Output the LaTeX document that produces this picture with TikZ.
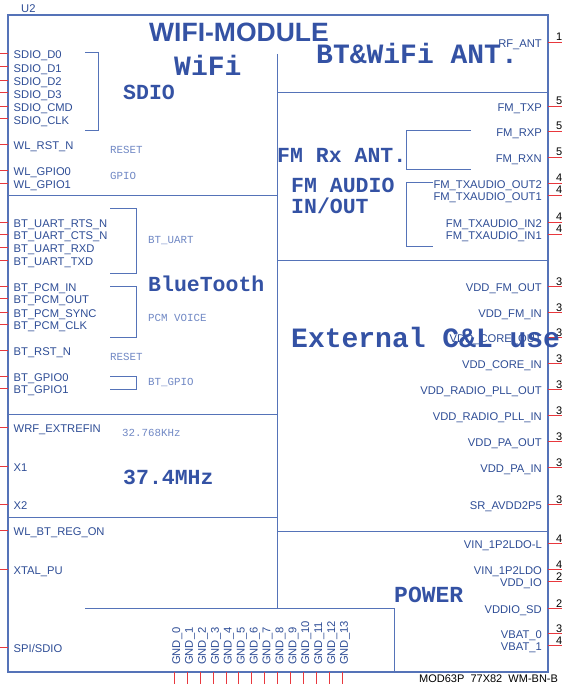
\documentclass[tikz,border=0pt]{standalone}
\usepackage{fontspec}
\setmainfont{Liberation Sans}
\setmonofont{Liberation Mono}
\usepackage{xcolor}
\usetikzlibrary{positioning}

\definecolor{modblue}{HTML}{3452A4}
\definecolor{pinblue}{HTML}{2D4C95}
\definecolor{lineblue}{HTML}{5573B8}
\definecolor{hintblue}{HTML}{7088C4}
\definecolor{pinred}{HTML}{E8383D}

\tikzset{
    frame/.style={lineblue, line width=1pt},
    pinline/.style={pinred, line width=0.9pt},
    pinlbl/.style={pinblue, inner sep=0pt, font=\fontsize{11.2}{13}\selectfont},
    pinnum/.style={black, inner sep=0pt, font=\fontsize{11}{13}\selectfont},
    blocklbl/.style={modblue, inner sep=0pt, anchor=base west, font=\ttfamily\bfseries\fontsize{21.5}{24}\selectfont},
    biglbl/.style={modblue, inner sep=0pt, anchor=base west, font=\ttfamily\bfseries\fontsize{28}{30}\selectfont},
    hintlbl/.style={hintblue, inner sep=0pt, anchor=base west, font=\ttfamily\fontsize{10.8}{12}\selectfont}
}

\begin{document}
\begin{tikzpicture}[x=1pt, y=-1pt]
    \useasboundingbox (0,0) rectangle (562,684);

    % Outline and dividers
    \draw[frame, line width=1.3pt] (8,15) rectangle (548,672);
    \draw[frame] (277,54) -- (277,608);
    \draw[frame] (8,196) -- (277,196);
    \draw[frame] (8,414) -- (277,414);
    \draw[frame] (8,517) -- (277,517);
    \draw[frame] (85,608) -- (394,608) -- (394,672);
    \draw[frame] (277,93) -- (548,93);
    \draw[frame] (277,260) -- (548,260);
    \draw[frame] (277,531) -- (548,531);

    % Group brackets
    \draw[frame] (85,53) -- (98,53) -- (98,131) -- (85,131);
    \draw[frame] (110,209) -- (136,209) -- (136,273) -- (110,273);
    \draw[frame] (110,286) -- (136,286) -- (136,337) -- (110,337);
    \draw[frame] (110,376) -- (136,376) -- (136,389) -- (110,389);
    \draw[frame] (471,131) -- (406,131) -- (406,170) -- (471,170);
    \draw[frame] (433,183) -- (406,183) -- (406,247) -- (433,247);

    % Titles
    \node[pinlbl, anchor=base west] (part) at (21,13) {U2};
    \node[modblue, inner sep=0pt, anchor=base west, font=\bfseries\fontsize{26.5}{28}\selectfont] (title) at (149,41.5) {WIFI-MODULE};
    \node[pinnum, anchor=base west] (partno) at (419,682.5) {MOD63P\ \ 77X82\ \ WM-BN-B};

    % Left pins
    \foreach \y/\name [count=\i] in {
        53/SDIO\_D0, 66.7/SDIO\_D1, 80/SDIO\_D2, 92.7/SDIO\_D3,
        106/SDIO\_CMD, 118.3/SDIO\_CLK, 144/WL\_RST\_N,
        170/WL\_GPIO0, 183/WL\_GPIO1,
        222/BT\_UART\_RTS\_N, 234/BT\_UART\_CTS\_N, 247/BT\_UART\_RXD, 260/BT\_UART\_TXD,
        286/BT\_PCM\_IN, 298/BT\_PCM\_OUT, 312/BT\_PCM\_SYNC, 324/BT\_PCM\_CLK,
        350/BT\_RST\_N, 376/BT\_GPIO0, 388/BT\_GPIO1,
        427/WRF\_EXTREFIN, 466/X1, 504/X2,
        530/WL\_BT\_REG\_ON, 569/XTAL\_PU, 647/{SPI/SDIO}
    } {
        \coordinate (lpin\i) at (8,\y);
        \draw[pinline] (lpin\i) -- ++(-8,0);
        \node[pinlbl, anchor=base west] (lname\i) at (13.5,\y+5.8) {\name};
    }

    % Right pins
    \foreach \y/\name/\num [count=\i] in {
        42/RF\_ANT/1,
        106/FM\_TXP/5, 131/FM\_RXP/5, 157/FM\_RXN/5,
        183/FM\_TXAUDIO\_OUT2/4, 195/FM\_TXAUDIO\_OUT1/4,
        222/FM\_TXAUDIO\_IN2/4, 234/FM\_TXAUDIO\_IN1/4,
        286/VDD\_FM\_OUT/3, 312/VDD\_FM\_IN/3, 337/VDD\_CORE\_OUT/3, 363/VDD\_CORE\_IN/3,
        389/VDD\_RADIO\_PLL\_OUT/3, 415/VDD\_RADIO\_PLL\_IN/3,
        441/VDD\_PA\_OUT/3, 467/VDD\_PA\_IN/3, 504/SR\_AVDD2P5/3,
        543/VIN\_1P2LDO-L/4, 569/VIN\_1P2LDO/4, 581/VDD\_IO/2,
        608/VDDIO\_SD/2, 633/VBAT\_0/3, 645/VBAT\_1/4
    } {
        \coordinate (rpin\i) at (548,\y);
        \draw[pinline] (rpin\i) -- ++(14,0);
        \node[pinlbl, anchor=base east] (rname\i) at (542,\y+5.5) {\name};
        \node[pinnum, anchor=base west] (rnum\i) at (556,\y-1) {\num};
    }

    % Ground pins
    \foreach \i in {0,...,13} {
        \coordinate (gpin\i) at (174.3+12.92*\i,672);
        \draw[pinline] (gpin\i) -- ++(0,12);
        \node[pinlbl, rotate=90, anchor=base west] (gname\i) at (180+12.92*\i,665) {GND\_\i};
    }

    % Block names
    \node[biglbl] (wifi) at (174,76) {WiFi};
    \node[blocklbl] (sdio) at (123,99.3) {SDIO};
    \node[biglbl] (ant) at (316,63.3) {BT\&WiFi ANT.};
    \node[blocklbl] (fmrx) at (277,162.7) {FM Rx ANT.};
    \node[blocklbl, align=left] (fmaudio) at (291,213.3) {FM AUDIO\\[-3.5pt]IN/OUT};
    \node[blocklbl] (bt) at (148,291) {BlueTooth};
    \node[biglbl] (ext) at (291,347.3) {External C\&L use};
    \node[blocklbl] (xtal) at (123,484.3) {37.4MHz};
    \node[blocklbl, font=\ttfamily\bfseries\fontsize{23}{25}\selectfont] (power) at (394,602.3) {POWER};

    % Group hints
    \node[hintlbl] (wlrst) at (110,154) {RESET};
    \node[hintlbl] (wlgpio) at (110,180) {GPIO};
    \node[hintlbl] (btuart) at (148,243.8) {BT\_UART};
    \node[hintlbl] (pcm) at (148,321) {PCM VOICE};
    \node[hintlbl] (btrst) at (110,360) {RESET};
    \node[hintlbl] (btgpio) at (148,385.3) {BT\_GPIO};
    \node[hintlbl] (slow) at (122,436.7) {32.768KHz};
\end{tikzpicture}
\end{document}
